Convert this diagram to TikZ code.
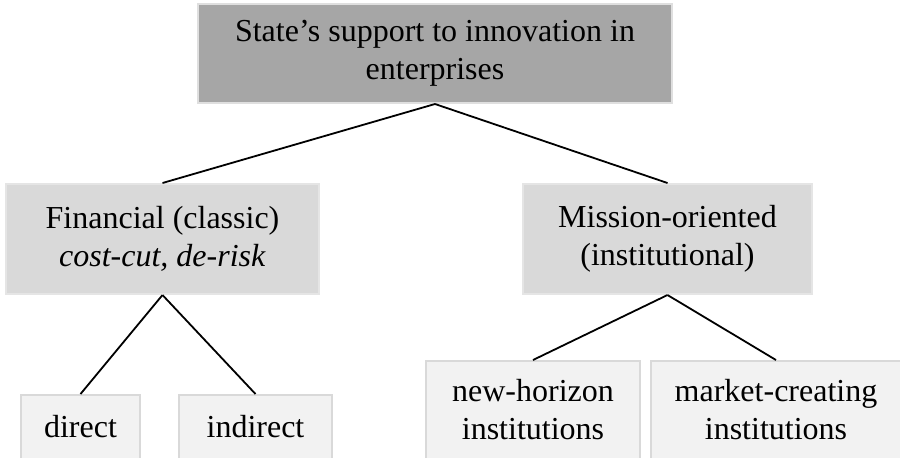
\documentclass[tikz,border=0pt]{standalone}
\usepackage{fontspec}
\setmainfont{Liberation Serif}
\usepackage{tikz}
\tikzset{%
	rootbox/.style  = {draw=gray!25, fill=gray!70, line width=1pt, rectangle, align=center, minimum width=237pt, minimum height=49.5pt},
	typebox/.style  = {draw=gray!20, fill=gray!30, line width=1pt, rectangle, align=center, minimum height=55pt},
	leafbox/.style  = {draw=gray!30, fill=gray!10, line width=1pt, rectangle, align=center},
	branch/.style   = {line width=0.9pt, black},
}

\begin{document}
\begin{tikzpicture}[x=0.5pt,y=-0.5pt,font=\fontsize{16}{19}\selectfont]
	\useasboundingbox (0,0) rectangle (900,457);
	% levels
	\node [rootbox] (state) at (435,53.5) {State’s support to innovation in\\enterprises};
	\node [typebox, minimum width=156.5pt] (fin) at (162.5,239) {Financial (classic)\\\textit{cost-cut, de-risk}};
	\node [typebox, minimum width=144.5pt] (mis) at (667.5,239) {Mission-oriented\\(institutional)};
	\node [leafbox, minimum width=59.5pt, minimum height=32pt] (direct) at (80.5,427) {direct};
	\node [leafbox, minimum width=76.5pt, minimum height=32pt] (indirect) at (255.5,427) {indirect};
	\node [leafbox, minimum width=107pt, minimum height=49pt] (newhor) at (533,410) {new-horizon\\institutions};
	\node [leafbox, minimum width=125pt, minimum height=49pt] (market) at (776,410) {market-creating\\institutions};

	\draw[branch] (state.south) -- (fin.north);
	\draw[branch] (state.south) -- (mis.north);
	\draw[branch] (fin.south) -- (direct.north);
	\draw[branch] (fin.south) -- (indirect.north);
	\draw[branch] (mis.south) -- (newhor.north);
	\draw[branch] (mis.south) -- (market.north);
\end{tikzpicture}
\end{document}
